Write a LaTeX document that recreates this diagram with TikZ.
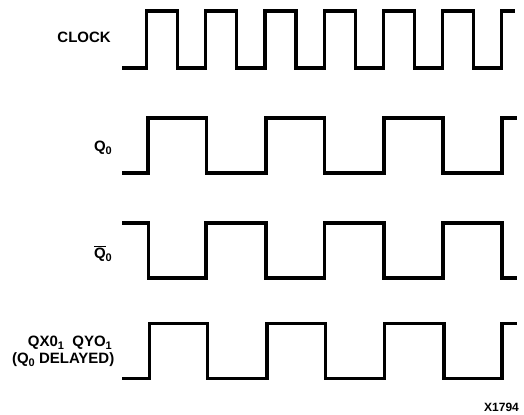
\documentclass[tikz,border=0pt]{standalone}
\usepackage{fontspec}
\setmainfont{Liberation Sans}
\newcommand\lsub[1]{\raisebox{-0.22em}{\fontsize{11bp}{11bp}\selectfont #1}}
\begin{document}
\begin{tikzpicture}[x=1bp,y=-1bp]
\tikzset{
  wave/.style={line width=3.2bp, line join=miter, line cap=butt},
  lbl/.style={inner sep=0pt, font=\fontsize{15bp}{18bp}\selectfont\bfseries},
  tag/.style={inner sep=0pt, font=\fontsize{12bp}{14bp}\selectfont\bfseries}
}
\useasboundingbox (0,0) rectangle (524,414);
% labels
\node[lbl, anchor=base east] (clk) at (111,42) {CLOCK};
\node[lbl, anchor=base east] (q0) at (112,151.5) {Q\lsub{0}};
\node[lbl, anchor=base east] (q0b) at (112,258) {$\overline{\mbox{Q}}$\lsub{0}};
\node[lbl, anchor=base east] (qx) at (112,346) {QX0\lsub{1}\ \ QYO\lsub{1}};
\node[lbl, anchor=base east] (qd) at (114.5,363.5) {(Q\lsub{0} DELAYED)};
\node[tag, anchor=base west] (id) at (484,411) {X1794};
% clock
\draw[wave] (122,68) -| (146.5,11) -| (177.5,68) -| (205.7,11) -| (236.7,68)
  -| (264.9,11) -| (295.9,68) -| (324.1,11) -| (355.1,68) -| (383.3,11)
  -| (414.3,68) -| (442.5,11) -| (473.5,68) -| (501.7,11) -- (515,11);
% Q0
\draw[wave] (122,173) -| (148,118) -| (206.5,173) -| (266,118) -| (324.5,173)
  -| (384,118) -| (443,173) -| (502,118) -- (517,118);
% Q0 bar
\draw[wave] (122,223) -| (148.5,278) -| (206,223) -| (266,278) -| (324.5,223)
  -| (384,278) -| (443,223) -| (502,278) -- (517,278);
% delayed
\draw[wave] (122,378.5) -| (149.5,323.5) -| (207.5,378.5) -| (267,323.5) -| (325.5,378.5)
  -| (384.5,323.5) -| (444,378.5) -| (502,323.5) -- (517,323.5);
\end{tikzpicture}
\end{document}
